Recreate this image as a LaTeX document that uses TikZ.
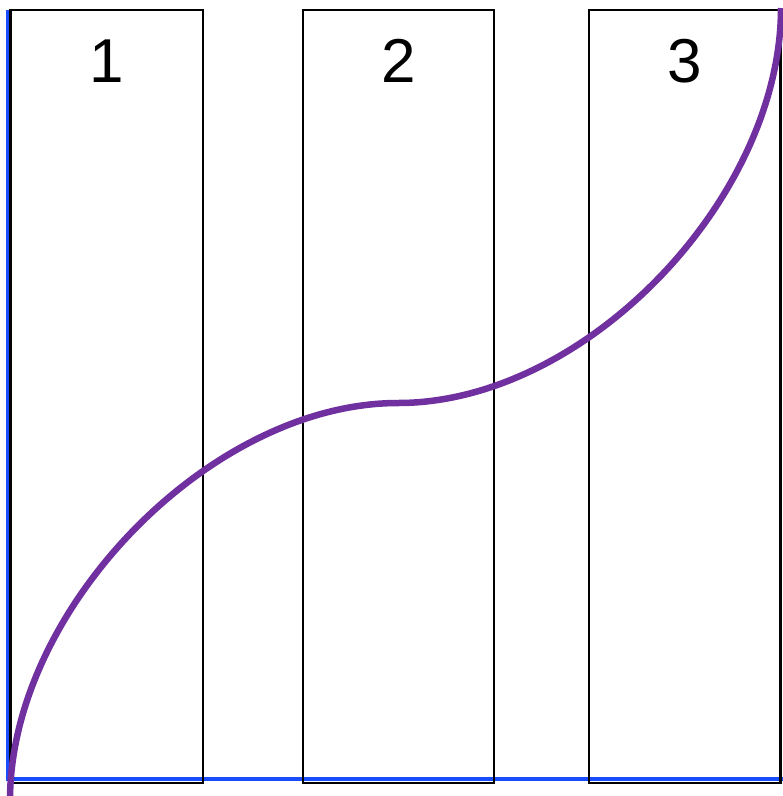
\documentclass[tikz,border=0pt]{standalone}
\usepackage{fontspec}
\setmainfont{Liberation Sans}
\definecolor{curvepurple}{RGB}{112,48,160}
\definecolor{axisblue}{RGB}{25,75,255}
\begin{document}
\begin{tikzpicture}[x=1pt,y=-1pt,
  lane/.style={draw=black,line width=2.6pt,fill=none},
  axisline/.style={draw=axisblue,line width=3.6pt},
  curveline/.style={draw=curvepurple,line width=6.5pt},
  lanelabel/.style={anchor=base,inner sep=0pt,font=\fontsize{62}{62}\selectfont}]
\useasboundingbox (0,0) rectangle (783,796);
\fill[white] (0,0) rectangle (783,796);
\coordinate (o) at (8,779);
\coordinate (ytop) at (8,10);
\coordinate (xend) at (783,779);
\draw[axisline] (ytop) -- (o) -- (xend);
\draw[lane] (10.5,10) rectangle (203,783);
\draw[lane] (303,10) rectangle (494,783);
\draw[lane] (589,10) rectangle (780.5,783);
\node[lanelabel] (l1) at (106.5,82) {1};
\node[lanelabel] (l2) at (398.5,82) {2};
\node[lanelabel] (l3) at (685,82) {3};
\coordinate (c0) at (10,800);
\coordinate (cm) at (398,403);
\coordinate (c1) at (781,8);
\draw[curveline] (c0) .. controls (10,610) and (210,403) .. (cm)
  .. controls (586,403) and (781,198) .. (c1);
\end{tikzpicture}
\end{document}
